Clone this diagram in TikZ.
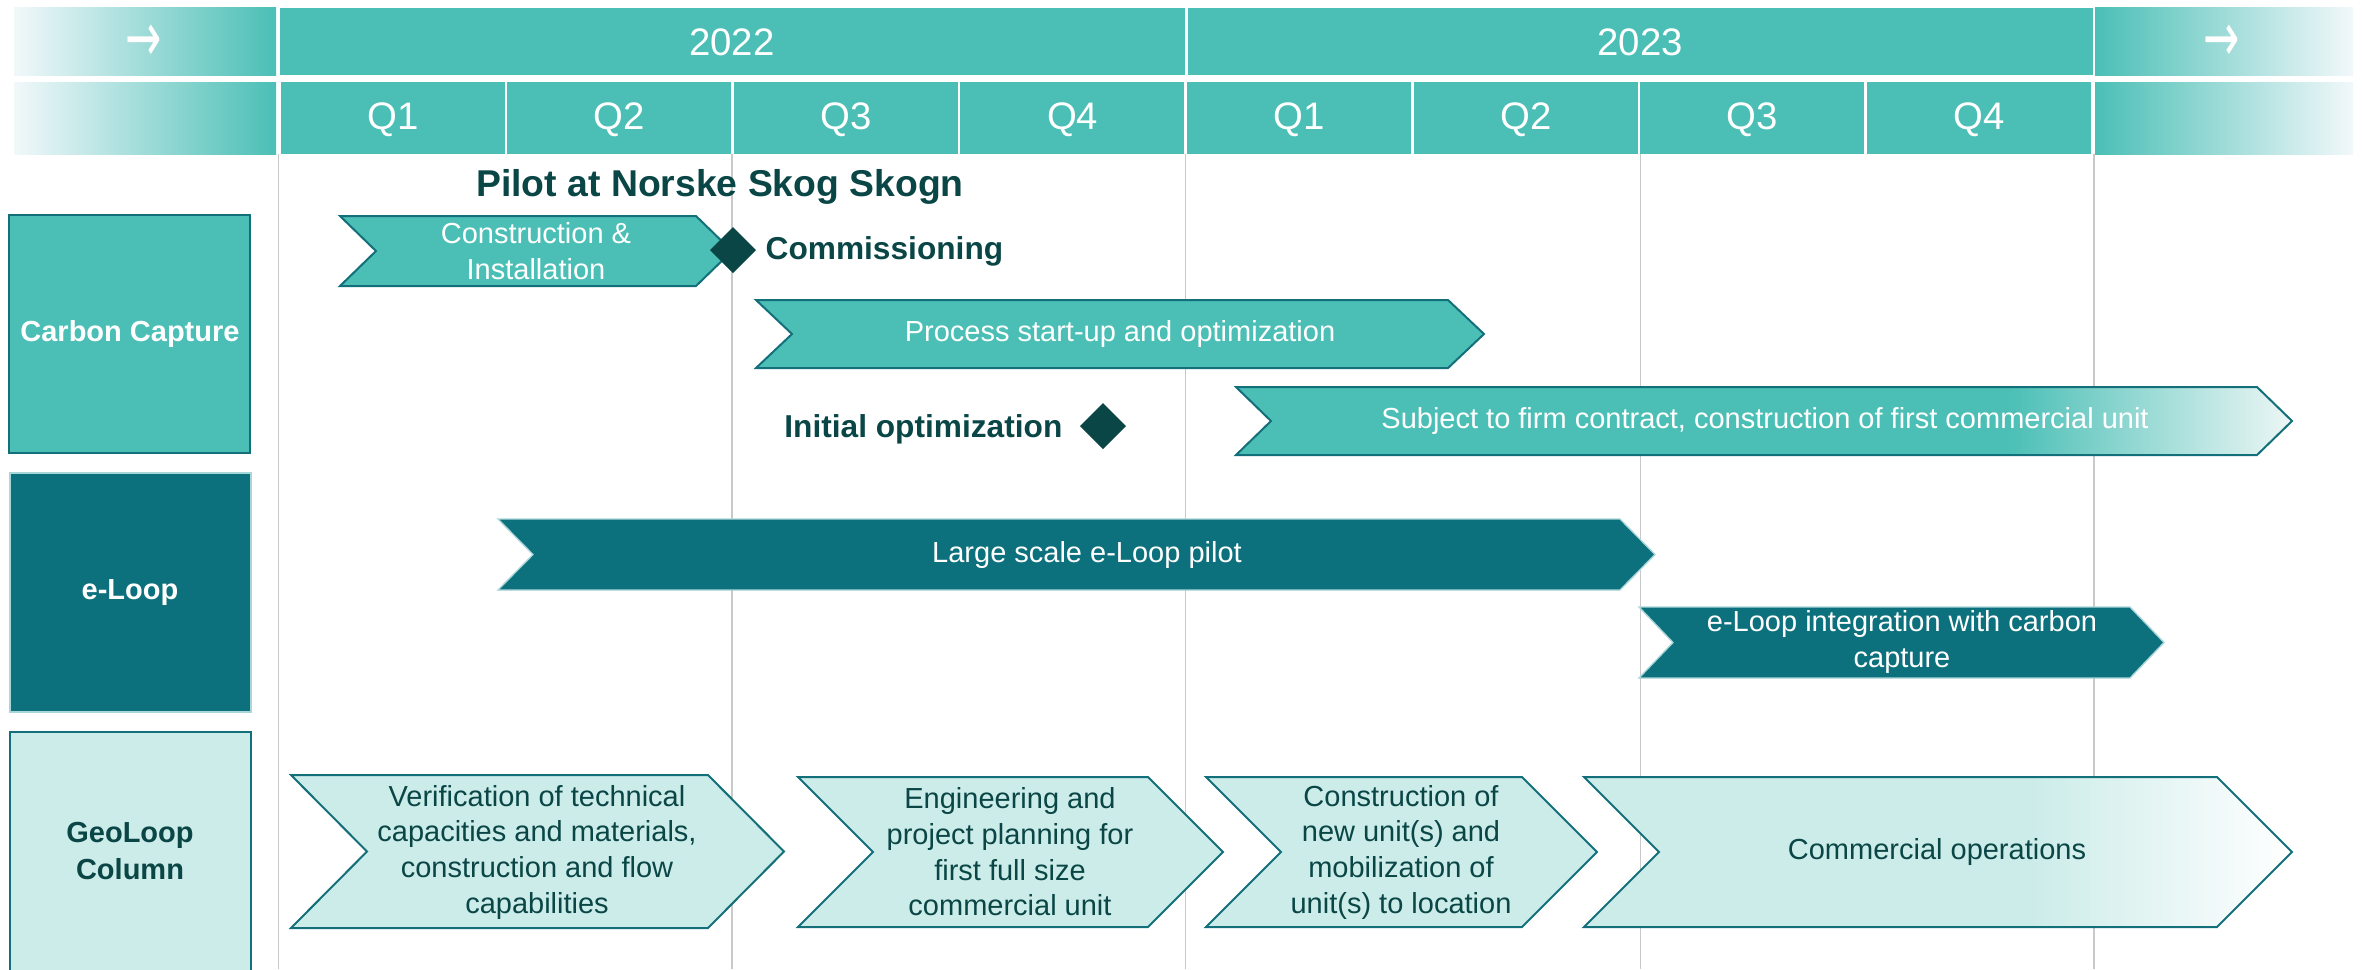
\documentclass[tikz,border=0pt]{standalone}
\usepackage{fontspec}
\usepackage{graphicx}
\setmainfont{Liberation Sans}
\newfontfamily\arrowfont{DejaVu Sans}
\definecolor{tealA}{HTML}{4BBFB6}
\definecolor{tealD}{HTML}{0D717D}
\definecolor{edgeD}{HTML}{13707A}
\definecolor{edgeL}{HTML}{A9D6D9}
\definecolor{lightG}{HTML}{CCECE9}
\definecolor{darkT}{HTML}{0A4646}
\definecolor{gridC}{HTML}{C9C9C9}
\definecolor{fadeL}{HTML}{F2F8FA}
\definecolor{fadeC}{HTML}{EEF7F6}
\newcommand{\chevron}[5]{(#1,#3) -- (#2,#3) -- ({#2+#5},{(#3+#4)/2}) -- (#2,#4) -- (#1,#4) -- ({#1+#5},{(#3+#4)/2}) -- cycle}
\begin{document}
\begin{tikzpicture}[x=0.3pt,y=-0.3pt,
  gridline/.style={draw=gridC,line width=0.45pt},
  hdrtext/.style={text=white,font=\fontsize{11.5}{13}\selectfont,inner sep=0},
  arrtext/.style={text=white,font=\arrowfont\fontsize{13}{14}\selectfont,inner sep=0},
  bodyw/.style={text=white,font=\fontsize{8.7}{10.7}\selectfont,align=center,inner sep=0},
  bodyd/.style={text=darkT,font=\fontsize{8.7}{10.7}\selectfont,align=center,inner sep=0},
  lbl/.style={font=\bfseries\fontsize{8.7}{11}\selectfont,align=center,inner sep=0},
  ccchev/.style={fill=tealA,draw=edgeD,line width=0.6pt,line join=miter},
  elchev/.style={fill=tealD,draw=edgeL,line width=0.4pt,line join=miter},
  gechev/.style={fill=lightG,draw=edgeD,line width=0.6pt,line join=miter},
  mile/.style={fill=darkT,draw=none},
  miletext/.style={text=darkT,font=\bfseries\fontsize{9.5}{11}\selectfont,inner sep=0}
]
\useasboundingbox (0,0) rectangle (2362,969);
% grid lines
\foreach \x in {278.7,732,1185.5,1640.5,2094}
  \draw[gridline] (\x,154) -- (\x,969);
% header
\shade[left color=fadeL,right color=tealA] (14,7.5) rectangle (276,75);
\shade[left color=fadeL,right color=tealA] (14,82) rectangle (276,154);
\shade[left color=tealA,right color=fadeL] (2095,7.5) rectangle (2353,75);
\shade[left color=tealA,right color=fadeL] (2095,82) rectangle (2353,154);
\fill[tealA] (279.5,7.5) rectangle (1185,75);
\fill[tealA] (1187.5,7.5) rectangle (2092.5,75);
\node[hdrtext] (y2022) at (732,42) {2022};
\node[hdrtext] (y2023) at (1640,42) {2023};
\node[arrtext] (arrL) at (144,43) {\scalebox{1}[1.6]{→}};
\node[arrtext] (arrR) at (2222,43) {\scalebox{1}[1.6]{→}};
\foreach \i/\q in {0/Q1,1/Q2,2/Q3,3/Q4,4/Q1,5/Q2,6/Q3,7/Q4}{
  \fill[tealA] ({279.5+\i*226.6+1},82) rectangle ({279.5+(\i+1)*226.6-1.5},154);
  \node[hdrtext] (q\i) at ({279.5+(\i+0.5)*226.6},120) {\q};
}
% row labels
\draw[fill=tealA,draw=edgeD,line width=0.8pt] (9,215) rectangle (250,453);
\node[lbl,text=white] (lcc) at (130,334) {Carbon Capture};
\draw[fill=tealD,draw=edgeL,line width=0.4pt] (10,473) rectangle (251,712);
\node[lbl,text=white] (lel) at (130,593) {e-Loop};
\draw[fill=lightG,draw=edgeD,line width=0.8pt] (10,732) rectangle (251,980);
\node[lbl,text=darkT] (lgl) at (130,851) {GeoLoop\\Column};
% title
\node[text=darkT,font=\bfseries\fontsize{11.2}{13}\selectfont,inner sep=0] (title) at (720,187) {Pilot at Norske Skog Skogn};
% carbon capture chevrons
\draw[ccchev] \chevron{340}{696}{216}{286}{36};
\node[bodyw] (c1) at (536,251) {Construction \&\\Installation};
\draw[ccchev] \chevron{756}{1448}{300}{368}{36};
\node[bodyw] (c2) at (1120,334) {Process start-up and optimization};
\begin{scope}
  \clip \chevron{1236}{2257}{387}{455}{35};
  \fill[tealA] (1200,380) rectangle (2300,460);
  \shade[left color=tealA,right color=fadeC] (2008,380) rectangle (2294,460);
\end{scope}
\draw[edgeD,line width=0.6pt,line join=miter] \chevron{1236}{2257}{387}{455}{35};
\node[bodyw] (c3) at (1765,421) {Subject to firm contract, construction of first commercial unit};
% milestones
\fill[mile] (733,227) -- (756,250) -- (733,273) -- (710,250) -- cycle;
\node[miletext,anchor=west] (m1) at (765,251) {Commissioning};
\fill[mile] (1103,403) -- (1126,426) -- (1103,449) -- (1080,426) -- cycle;
\node[miletext,anchor=east] (m2) at (1063,429) {Initial optimization};
% e-Loop chevrons
\draw[elchev] \chevron{498}{1620}{519}{590}{35};
\node[bodyw] (e1) at (1087,555) {Large scale e-Loop pilot};
\draw[elchev] \chevron{1639}{2130}{607}{678}{34};
\node[bodyw] (e2) at (1902,642) {e-Loop integration with carbon\\capture};
% GeoLoop chevrons
\draw[gechev] \chevron{291}{708}{775}{928}{76};
\node[bodyd] (g1) at (537,852) {Verification of technical\\capacities and materials,\\construction and flow\\capabilities};
\draw[gechev] \chevron{798}{1148}{777}{927}{75};
\node[bodyd] (g2) at (1010,852) {Engineering and\\project planning for\\first full size\\commercial unit};
\draw[gechev] \chevron{1206}{1522}{777}{927}{75};
\node[bodyd] (g3) at (1401,852) {Construction of\\new unit(s) and\\mobilization of\\unit(s) to location};
\begin{scope}
  \clip \chevron{1584}{2217}{777}{927}{75};
  \fill[lightG] (1550,770) rectangle (2300,935);
  \shade[left color=lightG,right color=white] (2031,770) rectangle (2292,935);
\end{scope}
\draw[edgeD,line width=0.6pt,line join=miter] \chevron{1584}{2217}{777}{927}{75};
\node[bodyd] (g4) at (1937,852) {Commercial operations};
\end{tikzpicture}
\end{document}
